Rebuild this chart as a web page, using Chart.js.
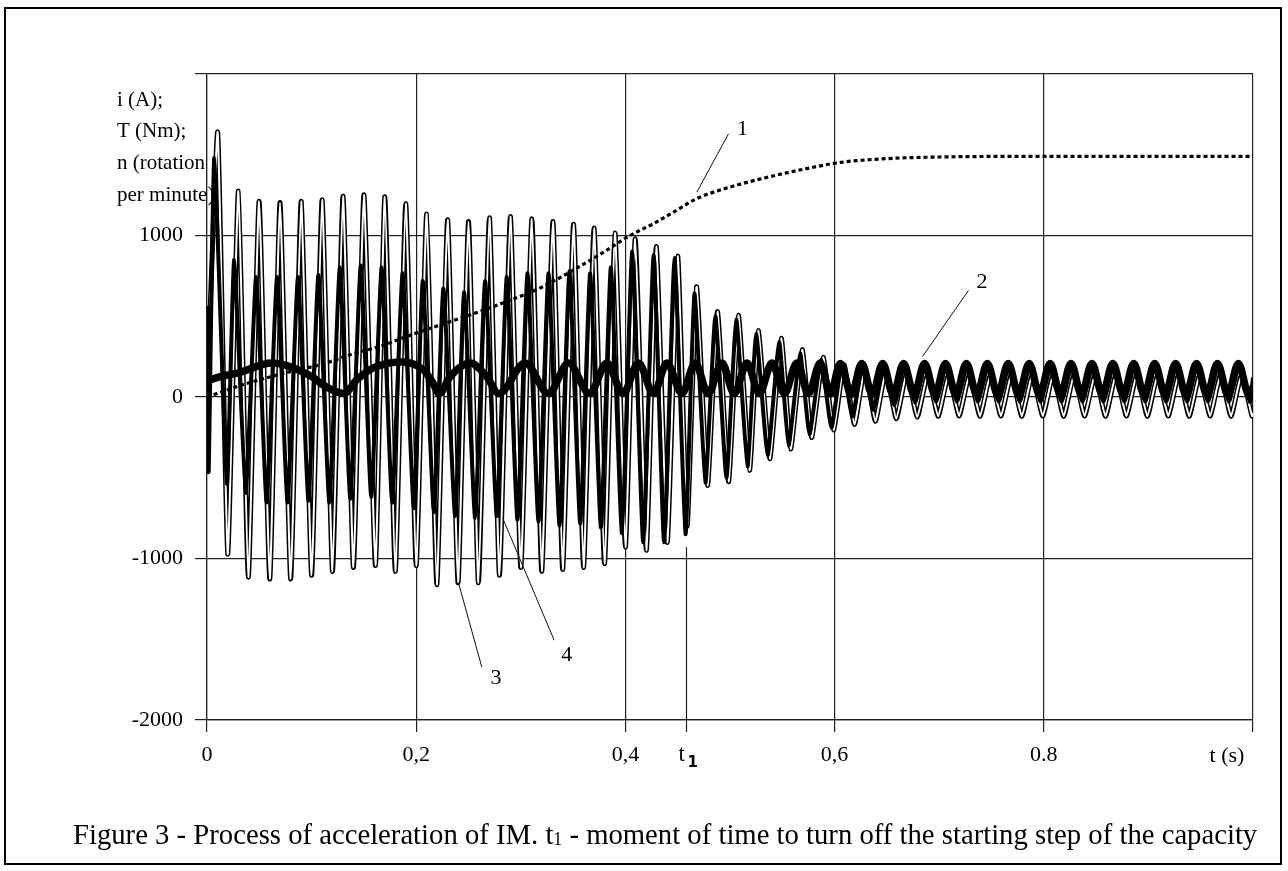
<!DOCTYPE html>
<html><head><meta charset="utf-8">
<script src="https://cdn.jsdelivr.net/npm/chart.js@4.4.1/dist/chart.umd.min.js"></script>
<style>html,body{margin:0;padding:0;background:#fff;}canvas{display:block;}</style>
</head><body>
<canvas id="c" width="1288" height="871"></canvas>
<script>
// ---------- data ----------
const xTickValues = [0, 0.2, 0.4, 0.6, 0.8, 1.0];
const xTickLabels = ['0', '0,2', '0,4', '0,6', '0.8', ''];
const xAxisName = 't (s)';
const yTickValues = [-2000, -1000, 0, 1000, 2000];
const yTickLabels = ['-2000', '-1000', '0', '1000', ''];
const yTitleLines = ['i (A);', 'T (Nm);', 'n (rotation', 'per minute)'];
const t1Time = 0.4575;
const t1LineTop = -930;
const captionParts = ['Figure 3 - Process of acceleration of IM. t', '1', ' - moment of time to turn off the starting step of the capacity'];

// curve 1: rotation speed n (rpm)  [t, value]
const speed1 = [[0,0],[0.02,45],[0.036,80],[0.055,115],[0.075,150],[0.11,203],[0.14,268],[0.167,317],[0.193,380],[0.22,440],[0.25,505],[0.29,600],[0.32,680],[0.354,800],[0.38,900],[0.403,995],[0.427,1074],[0.45,1160],[0.468,1228],[0.5,1300],[0.542,1370],[0.57,1410],[0.606,1453],[0.65,1476],[0.7,1486],[0.8,1490],[0.9,1490],[1.0,1490]];

// curve 2: thick arched curve
const curve2 = [[0,100],[0.012,125],[0.030,150],[0.062,210],[0.100,127],[0.111,74],[0.131,21],[0.143,105],[0.159,180],[0.186,217],[0.207,167],[0.216,86],[0.222,21],[0.2324,126],[0.2515,210],[0.2675,126],[0.279,21],[0.3042,210],[0.3265,21],[0.3456,210],[0.3657,21],[0.3823,210],[0.3976,21],[0.4125,210],[0.4269,21],[0.4397,210],[0.454,21],[0.4668,210],[0.479,21],[0.4923,210],[0.504,21],[0.5162,210],[0.528,21],[0.5401,210],[0.552,21],[0.564,210],[0.575,21],[0.5863,210],[0.596,18],[0.6054,208],[0.616,15],[0.626,208],[0.636,15],[0.646,208],[0.656,15],[0.666,208],[0.676,15],[0.686,208],[0.696,15],[0.706,208],[0.716,15],[0.726,208],[0.736,15],[0.746,208],[0.756,15],[0.766,208],[0.776,15],[0.786,208],[0.796,15],[0.806,208],[0.816,15],[0.826,208],[0.836,15],[0.846,208],[0.856,15],[0.866,208],[0.876,15],[0.886,208],[0.896,15],[0.906,208],[0.916,15],[0.926,208],[0.936,15],[0.946,208],[0.956,15],[0.966,208],[0.976,15],[0.986,208],[0.996,15],[1.0,60]];

// curve 3: thin (hollow) current
const current3 = [[0,0],[0.0102,1640],[0.0198,-973],[0.030,1275],[0.0395,-1115],[0.0498,1212],[0.060,-1127],[0.0698,1204],[0.080,-1127],[0.090,1212],[0.100,-1104],[0.110,1221],[0.120,-1080],[0.130,1244],[0.140,-1056],[0.150,1252],[0.161,-1044],[0.170,1240],[0.180,-1080],[0.190,1197],[0.200,-1044],[0.210,1133],[0.2197,-1162],[0.230,1098],[0.240,-1150],[0.250,1086],[0.2595,-1150],[0.270,1110],[0.2796,-1104],[0.290,1117],[0.300,-1056],[0.3106,1103],[0.320,-1080],[0.3307,1086],[0.340,-1068],[0.3504,1069],[0.360,-1056],[0.370,1046],[0.380,-1032],[0.390,1015],[0.400,-930],[0.4094,980],[0.420,-949],[0.4295,932],[0.440,-900],[0.450,872],[0.459,-800],[0.468,683],[0.4785,-547],[0.488,529],[0.4986,-524],[0.508,506],[0.5187,-453],[0.527,411],[0.538,-382],[0.549,364],[0.558,-322],[0.569,293],[0.578,-251],[0.589,246],[0.599,-204],[0.609,200],[0.619,-170],[0.629,180],[0.639,-150],[0.649,160],[0.659,-135],[0.669,150],[0.679,-125],[0.689,140],[0.699,-120],[0.709,140],[0.719,-118],[0.729,140],[0.739,-120],[0.749,140],[0.759,-118],[0.769,140],[0.779,-120],[0.789,140],[0.799,-118],[0.809,140],[0.819,-120],[0.829,140],[0.839,-118],[0.849,140],[0.859,-120],[0.869,140],[0.879,-118],[0.889,140],[0.899,-120],[0.909,140],[0.919,-118],[0.929,140],[0.939,-120],[0.949,140],[0.959,-118],[0.969,140],[0.979,-120],[0.989,140],[0.999,-118],[1.0,-100]];

// curve 4: thick current
const current4 = [[0,0],[0.0008,553],[0.0016,-464],[0.007,1480],[0.019,-536],[0.026,849],[0.037,-594],[0.047,743],[0.057,-654],[0.067,743],[0.077,-654],[0.087,743],[0.097,-642],[0.1065,755],[0.117,-654],[0.127,802],[0.137,-630],[0.147,814],[0.157,-618],[0.167,802],[0.177,-654],[0.187,766],[0.1977,-689],[0.2063,719],[0.2169,-713],[0.226,672],[0.2372,-737],[0.2458,648],[0.2563,-748],[0.2659,719],[0.2771,-737],[0.2866,743],[0.2968,-760],[0.3064,766],[0.3169,-772],[0.3265,766],[0.337,-796],[0.3465,778],[0.3568,-784],[0.3663,766],[0.3766,-808],[0.3861,802],[0.3967,-843],[0.4065,900],[0.417,-900],[0.427,880],[0.437,-900],[0.447,860],[0.4575,-850],[0.466,640],[0.4765,-530],[0.486,500],[0.4966,-500],[0.506,480],[0.5167,-430],[0.525,390],[0.536,-360],[0.547,340],[0.556,-300],[0.567,270],[0.576,-230],[0.587,230],[0.597,-190],[0.607,210],[0.617,-120],[0.627,210],[0.637,-80],[0.647,210],[0.657,-50],[0.667,210],[0.677,-35],[0.687,210],[0.697,-30],[0.707,210],[0.717,-30],[0.727,210],[0.737,-30],[0.747,210],[0.757,-30],[0.767,210],[0.777,-30],[0.787,210],[0.797,-30],[0.807,210],[0.817,-30],[0.827,210],[0.837,-30],[0.847,210],[0.857,-30],[0.867,210],[0.877,-30],[0.887,210],[0.897,-30],[0.907,210],[0.917,-30],[0.927,210],[0.937,-30],[0.947,210],[0.957,-30],[0.967,210],[0.977,-30],[0.987,210],[0.997,-30],[1.0,120]];

// curve number labels: text position and leader line (data units)
const curveLabelText = ['1', '2', '3', '4'];
const curveLabelAt = [[0.512, 1660], [0.741, 713], [0.2764, -1742], [0.344, -1600]];
const leaderFrom = [[0.4986, 1630], [0.728, 660], [0.2627, -1672], [0.3319, -1506]];
const leaderTo = [[0.4684, 1270], [0.684, 250], [0.2404, -1150], [0.2834, -761]];

// ---------- chart ----------
const pts = arr => arr.map(p => ({x: p[0], y: p[1]}));
const SERIF = '"Liberation Serif", "Times New Roman", serif';

const decor = {
  id: 'decor',
  afterDraw(chart) {
    const {ctx, chartArea: a, scales: {x, y}} = chart;
    ctx.save();
    // outer frame
    ctx.strokeStyle = '#000'; ctx.lineWidth = 2;
    ctx.strokeRect(5, 8, 1276, 856);
    // y title lines
    ctx.fillStyle = '#000';
    ctx.font = '21px ' + SERIF;
    ctx.textAlign = 'left'; ctx.textBaseline = 'middle';
    yTitleLines.forEach((s, i) => ctx.fillText(s, 117, 100 + i * 31.7));
    // x axis name at right end
    ctx.font = '22px ' + SERIF;
    ctx.textAlign = 'center';
    ctx.fillText(xAxisName, x.getPixelForValue(1.0) - 26, a.bottom + 36);
    // t1 marker line
    const px = Math.round(x.getPixelForValue(t1Time)) + 0.5;
    ctx.strokeStyle = '#222'; ctx.lineWidth = 1.2;
    ctx.beginPath(); ctx.moveTo(px, y.getPixelForValue(t1LineTop)); ctx.lineTo(px, a.bottom + 12); ctx.stroke();
    ctx.font = '23px ' + SERIF; ctx.textAlign = 'left';
    ctx.fillText('t', px - 8, a.bottom + 35);
    ctx.font = 'bold 15px "DejaVu Sans", sans-serif';
    ctx.fillText('1', px + 1, a.bottom + 43);
    // curve labels and leader lines
    ctx.lineWidth = 1; ctx.strokeStyle = '#111';
    ctx.font = '22px ' + SERIF; ctx.textAlign = 'center';
    curveLabelText.forEach((s, i) => {
      ctx.beginPath();
      ctx.moveTo(x.getPixelForValue(leaderFrom[i][0]), y.getPixelForValue(leaderFrom[i][1]));
      ctx.lineTo(x.getPixelForValue(leaderTo[i][0]), y.getPixelForValue(leaderTo[i][1]));
      ctx.stroke();
      ctx.fillText(s, x.getPixelForValue(curveLabelAt[i][0]), y.getPixelForValue(curveLabelAt[i][1]));
    });
    // caption with subscript
    let size = 24;
    ctx.font = size + 'px ' + SERIF;
    const wMain = ctx.measureText(captionParts[0] + captionParts[2]).width;
    ctx.font = (size * 0.62) + 'px ' + SERIF;
    const wSub = ctx.measureText(captionParts[1]).width;
    size = size * 1185 / (wMain + wSub);
    let cx = 73; const cy = 836;
    ctx.textAlign = 'left'; ctx.textBaseline = 'middle';
    ctx.font = size + 'px ' + SERIF; ctx.fillText(captionParts[0], cx, cy); cx += ctx.measureText(captionParts[0]).width;
    ctx.font = (size * 0.62) + 'px ' + SERIF; ctx.fillText(captionParts[1], cx, cy + 4); cx += ctx.measureText(captionParts[1]).width;
    ctx.font = size + 'px ' + SERIF; ctx.fillText(captionParts[2], cx, cy);
    ctx.restore();
  }
};

const lineDs = (data, color, width, extra) => Object.assign({
  data: pts(data), borderColor: color, borderWidth: width, pointRadius: 0,
  fill: false, tension: 0.15
}, extra || {});

new Chart(document.getElementById('c'), {
  type: 'line',
  data: {
    datasets: [
      lineDs(speed1, '#000', 3.2, {borderDash: [4, 3], cubicInterpolationMode: 'monotone'}),
      lineDs(curve2, '#000', 7.5, {cubicInterpolationMode: 'monotone', borderCapStyle: 'round', borderJoinStyle: 'round'}),
      lineDs(current4, '#000', 4),
      lineDs(current3, '#fff', 2),
      lineDs(current3, '#000', 5)
    ]
  },
  options: {
    responsive: false, animation: false, devicePixelRatio: 1,
    layout: {padding: {left: 0, top: 74, right: 35, bottom: 101}},
    plugins: {legend: {display: false}, tooltip: {enabled: false}},
    scales: {
      x: {
        type: 'linear', min: 0, max: 1,
        afterBuildTicks: s => { s.ticks = xTickValues.map(v => ({value: v})); },
        afterFit: s => { s.height = 50; s.paddingLeft = 0; s.paddingRight = 0; },
        ticks: {autoSkip: false, maxRotation: 0, color: '#000', padding: 10,
          font: {family: SERIF, size: 22},
          callback: (v) => { const i = xTickValues.findIndex(t => Math.abs(t - v) < 1e-9); return i >= 0 ? xTickLabels[i] : ''; }},
        grid: {color: '#222', lineWidth: 1.2, tickLength: 12},
        border: {display: true, color: '#222', width: 1.2}
      },
      y: {
        min: -2000, max: 2000,
        afterBuildTicks: s => { s.ticks = yTickValues.map(v => ({value: v})); },
        afterFit: s => { s.width = 207; s.paddingTop = 0; s.paddingBottom = 0; },
        ticks: {autoSkip: false, color: '#000', padding: 12,
          font: {family: SERIF, size: 22},
          callback: (v) => { const i = yTickValues.indexOf(v); return i >= 0 ? yTickLabels[i] : ''; }},
        grid: {color: '#222', lineWidth: 1.2, tickLength: 12},
        border: {display: true, color: '#222', width: 1.2}
      }
    }
  },
  plugins: [decor]
});
</script>
</body></html>
